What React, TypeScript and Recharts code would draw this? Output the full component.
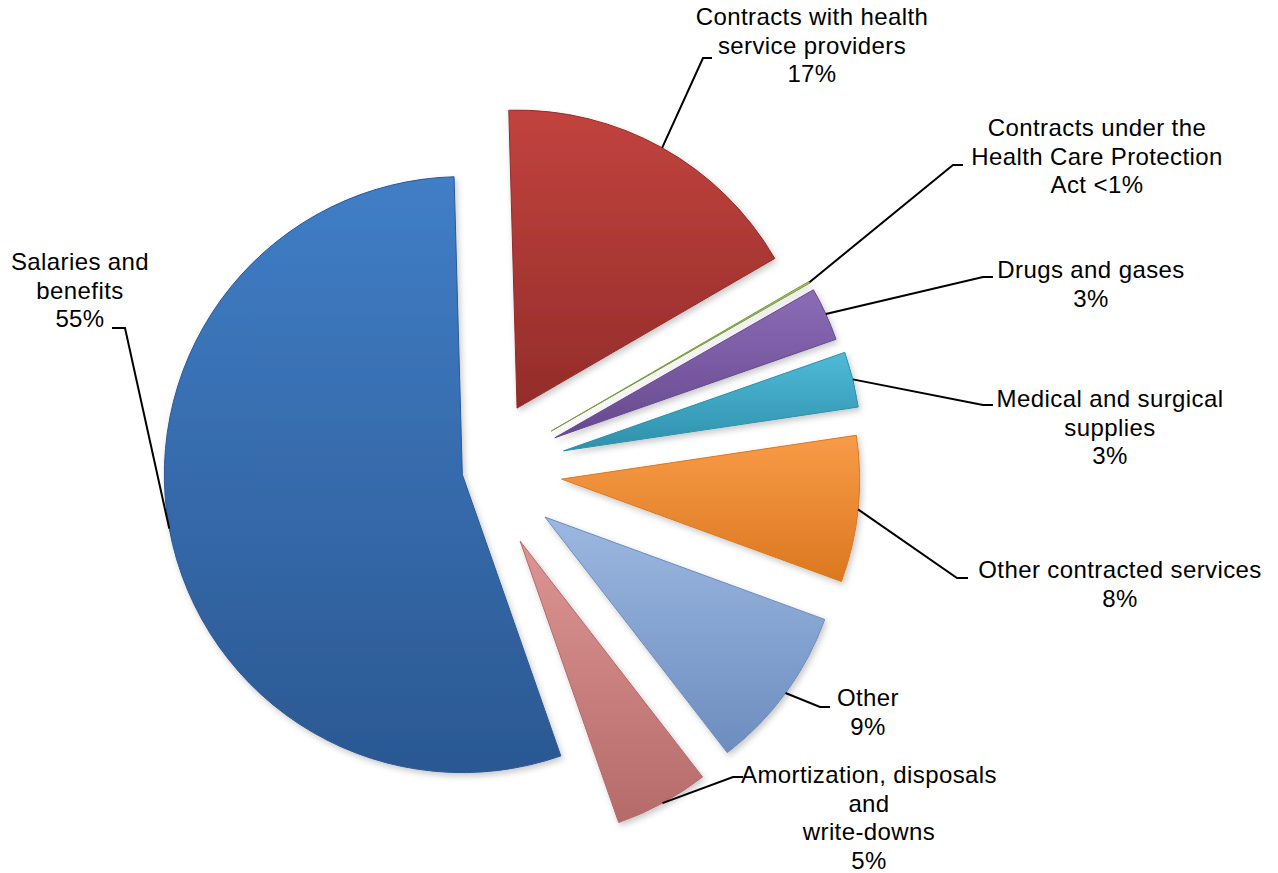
import { PieChart, Pie, Cell, Sector } from 'recharts';

// data, in drawing order (clockwise, starting with Salaries)
const CATEGORIES = [
  'Salaries and benefits',
  'Contracts with health service providers',
  'Contracts under the Health Care Protection Act',
  'Drugs and gases',
  'Medical and surgical supplies',
  'Other contracted services',
  'Other',
  'Amortization, disposals and write-downs',
];
const SHARES = [54.7, 17.0, 0.1, 2.9, 3.0, 7.9, 8.9, 5.1];
// how each label is broken into lines; {p} is the percentage
const LABEL_LINES = [
  ['Salaries and', 'benefits', '{p}'],
  ['Contracts with health', 'service providers', '{p}'],
  ['Contracts under the', 'Health Care Protection', 'Act {p}'],
  ['Drugs and gases', '{p}'],
  ['Medical and surgical', 'supplies', '{p}'],
  ['Other contracted services', '{p}'],
  ['Other', '{p}'],
  ['Amortization, disposals', 'and', 'write-downs', '{p}'],
];

// colours (top -> bottom of gradient)
const COLORS = [
  ['#407ec6', '#2b5892'],
  ['#c2433f', '#932c29'],
  ['#a3c25f', '#7a9a40'],
  ['#8b6cb6', '#67498f'],
  ['#4fbad8', '#2e90ab'],
  ['#f89b48', '#db781f'],
  ['#9cb8e1', '#6d8dbf'],
  ['#dd9593', '#b46b69'],
];

// layout
const W = 1278;
const H = 873;
const CX = 482;
const CY = 471;
const R = 298;
const START = -70.7;
const EXPLODE = [20, 72, 80, 80, 84, 80, 78, 80];
const FONT = 24;
const LINE_H = 28.5;
// ex/ey: elbow of the leader line, stub: length of the flat bit, tx/ty: text centre x / first baseline
const LABEL_LAYOUT = [
  { ex: 125, ey: 328, stub: -13, tx: 80, ty: 270 },
  { ex: 703, ey: 58, stub: 9, tx: 812, ty: 25 },
  { ex: 953, ey: 165, stub: 10, tx: 1097, ty: 136 },
  { ex: 983, ey: 277, stub: 10, tx: 1091, ty: 278 },
  { ex: 983, ey: 405, stub: 10, tx: 1110, ty: 407 },
  { ex: 957, ey: 578, stub: 11, tx: 1120, ty: 578 },
  { ex: 820, ey: 707, stub: 10, tx: 868, ty: 706 },
  { ex: 733, ey: 777, stub: 10, tx: 869, ty: 783 },
];

const data = CATEGORIES.map((name, i) => ({ name, value: SHARES[i] }));

const pct = (v: number) => (v < 1 ? '<1%' : `${Math.round(v)}%`);

const RAD = Math.PI / 180;

function renderSlice(props: any) {
  const { cx, cy, outerRadius, startAngle, endAngle, index, value } = props;
  const mid = (startAngle + endAngle) / 2;
  const off = EXPLODE[index];
  const ox = cx + off * Math.cos(-mid * RAD);
  const oy = cy + off * Math.sin(-mid * RAD);
  const ax = ox + outerRadius * Math.cos(-mid * RAD);
  const ay = oy + outerRadius * Math.sin(-mid * RAD);
  const lay = LABEL_LAYOUT[index];
  const lines = LABEL_LINES[index].map((l) => l.replace('{p}', pct(value)));

  return (
    <g key={`slice-${index}`}>
      <Sector
        cx={ox}
        cy={oy}
        innerRadius={0}
        outerRadius={outerRadius}
        startAngle={startAngle}
        endAngle={endAngle}
        fill={`url(#grad${index})`}
        stroke={COLORS[index][1]}
        strokeWidth={1}
        filter="url(#shadow)"
      />
      <polyline
        points={`${ax},${ay} ${lay.ex},${lay.ey} ${lay.ex + lay.stub},${lay.ey}`}
        fill="none"
        stroke="#000"
        strokeWidth={2}
      />
      <text
        textAnchor="middle"
        fontFamily="'Liberation Sans', Arial, sans-serif"
        fontSize={FONT}
        letterSpacing={0.4}
        fill="#000"
      >
        {lines.map((l, k) => (
          <tspan key={k} x={lay.tx} y={lay.ty + k * LINE_H}>
            {l}
          </tspan>
        ))}
      </text>
    </g>
  );
}

export default function App() {
  return (
    <div style={{ position: 'absolute', left: 0, top: 0, width: W, height: H, background: '#fff' }}>
      <PieChart width={W} height={H} margin={{ top: 0, right: 0, bottom: 0, left: 0 }}>
        <defs>
          {COLORS.map((c, i) => (
            <linearGradient key={i} id={`grad${i}`} x1="0" y1="0" x2="0" y2="1">
              <stop offset="0%" stopColor={c[0]} />
              <stop offset="100%" stopColor={c[1]} />
            </linearGradient>
          ))}
          <filter id="shadow" x="-10%" y="-10%" width="130%" height="130%">
            <feDropShadow dx="2" dy="3" stdDeviation="3" floodColor="#000" floodOpacity="0.22" />
          </filter>
        </defs>
        <Pie
          data={data}
          dataKey="value"
          nameKey="name"
          cx={CX}
          cy={CY}
          innerRadius={0}
          outerRadius={R}
          startAngle={START}
          endAngle={START - 360}
          stroke="none"
          label={renderSlice}
          labelLine={false}
          isAnimationActive={false}
        >
          {data.map((d, i) => (
            <Cell key={d.name} fill="transparent" stroke="none" />
          ))}
        </Pie>
      </PieChart>
    </div>
  );
}
